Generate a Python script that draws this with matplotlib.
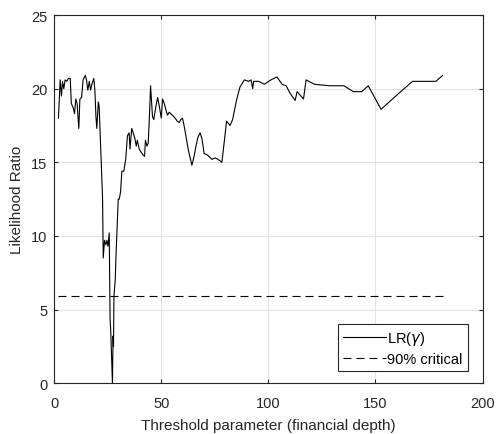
import matplotlib
matplotlib.use("Agg")
import matplotlib.pyplot as plt

plt.rcParams["font.family"] = ["Liberation Sans", "DejaVu Sans"]
plt.rcParams["mathtext.fontset"] = "dejavusans"

# threshold grid and LR statistic
gamma = [2.0, 2.8, 3.4, 3.9, 4.5, 5.1, 5.9, 6.7, 7.5, 8.0, 8.9, 9.5, 10.1, 10.7,
         11.5, 12.0, 12.8, 13.5, 14.5, 15.1, 15.7, 16.4, 17.0, 17.6, 18.5, 19.0,
         19.5, 19.9, 20.6, 21.0, 22.6, 22.9, 23.5, 24.1, 24.6, 25.1, 25.7, 26.1,
         26.4, 27.2, 27.5, 27.7, 27.9, 28.5, 28.8, 29.9, 30.4, 31.0, 31.6, 32.5,
         33.4, 34.2, 35.0, 35.4, 36.2, 37.1, 37.7, 38.3, 38.8, 39.7, 40.5, 41.5,
         42.2, 42.6, 43.3, 43.9, 44.4, 45.0, 45.9, 46.5, 47.5, 48.3, 49.1, 50.0,
         50.6, 51.4, 52.1, 52.9, 53.7, 55.2, 56.5, 57.4, 58.4, 59.1, 59.9, 60.5,
         61.5, 62.3, 63.0, 64.3, 65.3, 66.2, 67.1, 68.1, 69.0, 70.0, 71.5, 73.7,
         75.2, 76.5, 78.3, 79.4, 80.5, 82.1, 83.3, 85.1, 86.7, 88.8, 90.8, 91.9,
         92.7, 93.1, 95.5, 98.1, 101.2, 104.0, 106.4, 108.3, 110.1, 112.5, 113.4,
         116.4, 117.6, 121.5, 128.5, 135.3, 139.6, 143.6, 146.6, 152.6, 161.0,
         167.3, 178.2, 181.3]
lr = [18.0, 20.6, 19.5, 20.5, 20.0, 20.6, 20.5, 20.7, 20.7, 19.0, 18.7, 18.3,
      19.3, 19.0, 17.3, 19.3, 19.4, 20.6, 20.9, 20.6, 19.9, 20.5, 19.9, 20.3,
      20.7, 19.9, 18.1, 17.3, 19.1, 18.8, 12.5, 8.5, 9.7, 9.4, 9.7, 9.3, 10.2,
      4.3, 3.6, 0.0, 3.2, 2.5, 5.9, 7.0, 8.4, 12.5, 12.5, 13.0, 14.4, 14.4, 15.2,
      16.8, 17.0, 15.9, 17.3, 16.9, 16.6, 16.1, 16.5, 15.9, 15.7, 15.5, 15.4,
      16.5, 16.1, 16.3, 17.9, 20.2, 18.1, 17.9, 18.8, 19.4, 18.8, 18.0, 19.3,
      19.0, 18.6, 18.2, 18.4, 18.2, 18.0, 17.8, 17.7, 17.9, 18.0, 17.6, 16.8,
      16.1, 15.6, 14.8, 15.4, 16.1, 16.7, 17.0, 16.6, 15.6, 15.5, 15.2, 15.3,
      15.2, 15.0, 16.4, 17.8, 17.5, 17.9, 19.2, 20.1, 20.6, 20.5, 20.6, 20.0,
      20.5, 20.5, 20.3, 20.6, 20.8, 20.3, 20.2, 19.7, 19.2, 19.8, 19.3, 20.6,
      20.3, 20.2, 20.2, 19.8, 19.8, 20.2, 18.6, 19.7, 20.5, 20.5, 20.9]
crit_90 = 5.9

fig = plt.figure(figsize=(4.97, 4.35), dpi=100)
ax = fig.add_axes([0.109, 0.117, 0.862, 0.846])

ax.plot(gamma, lr, color="black", lw=0.8, label=r"LR($\gamma$)")
ax.plot([gamma[0], gamma[-1]], [crit_90, crit_90], color="black", lw=0.8,
        ls=(0, (7.2, 4.5)), label="90% critical")

ax.set_xlim(0, 200)
ax.set_ylim(0, 25)
ax.set_xticks([0, 50, 100, 150, 200])
ax.set_yticks([0, 5, 10, 15, 20, 25])
ax.grid(True, color="#e3e3e3", lw=0.8)
ax.set_axisbelow(True)
ax.tick_params(direction="in", top=True, right=True, labelsize=10.5,
               colors="#262626", length=3)
ax.tick_params(axis="x", pad=9)
ax.tick_params(axis="y", pad=5)
for s in ax.spines.values():
    s.set_color("#262626")
    s.set_linewidth(0.8)

ax.set_xlabel("Threshold parameter (financial depth)", fontsize=11,
              color="#262626", labelpad=6)
ax.set_ylabel("Likelihood Ratio", fontsize=11, color="#262626", labelpad=5)

leg = ax.legend(loc="lower right", bbox_to_anchor=(0.965, 0.033), borderaxespad=0,
                fontsize=10.5, fancybox=False, framealpha=1,
                edgecolor="#262626", handlelength=2.9, borderpad=0.35,
                labelspacing=0.3, handletextpad=0.1)
leg.get_frame().set_linewidth(0.8)

fig.savefig("out.png", dpi=100)
